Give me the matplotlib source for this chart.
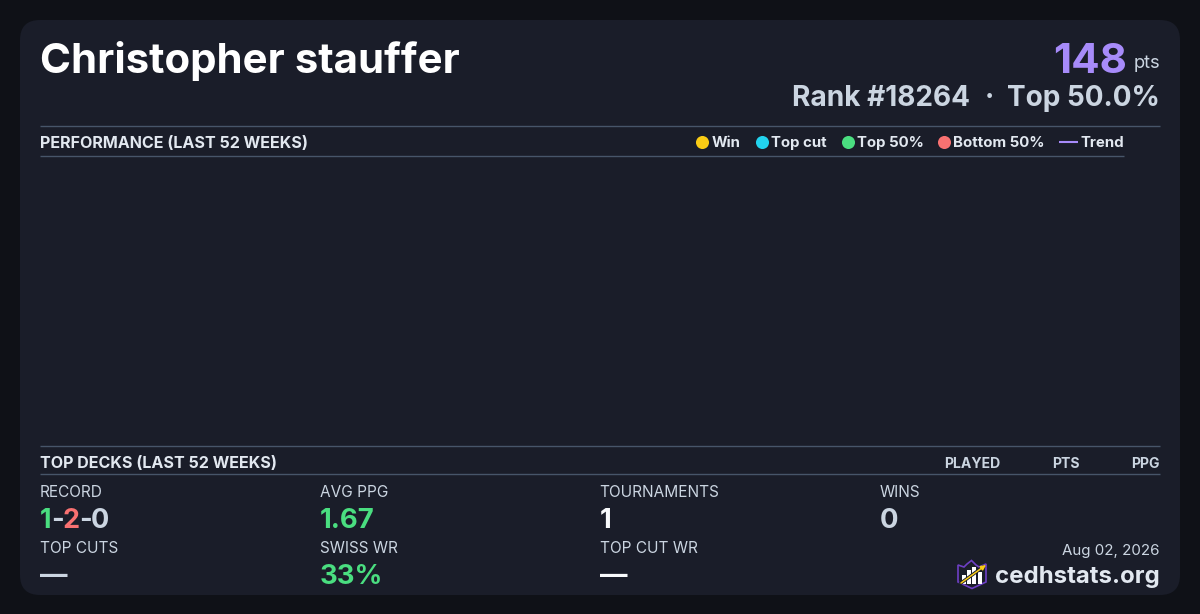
import matplotlib
matplotlib.use('Agg')
import matplotlib.pyplot as plt
from matplotlib.patches import FancyBboxPatch, Polygon, Rectangle

plt.rcParams['font.family'] = ['Inter', 'DejaVu Sans']

# Card content
player_name = 'Christopher stauffer'
points = '148'
rank_text = 'Rank #18264'
top_text = 'Top 50.0%'
legend_labels = ['Win', 'Top cut', 'Top 50%', 'Bottom 50%']
legend_colors = ['#facc15', '#22d3ee', '#4ade80', '#f87171']
legend_x = [702, 761.5, 847.5, 943.5]
deck_columns = ['PLAYED', 'PTS', 'PPG']
deck_column_right = [1000, 1080, 1160]

stat_labels = ['RECORD', 'AVG PPG', 'TOURNAMENTS', 'WINS', 'TOP CUTS', 'SWISS WR', 'TOP CUT WR']
stat_values = [None, '1.67', '1', '0', '—', '33%', '—']
stat_colors = [None, '#4ade80', '#f8fafc', '#cbd5e1', '#cbd5e1', '#4ade80', '#f8fafc']
stat_x = [40, 320, 599.5, 880, 40, 320, 599.5]
stat_label_y = [491, 491, 491, 491, 547, 547, 547]
stat_value_y = [518, 518, 518, 518, 574, 574, 574]

LINE = '#475569'
PURPLE = '#a78bfa'


def px(size):
    return size * 0.72


fig = plt.figure(figsize=(12, 6.14), dpi=100, facecolor='#0f1117')
ax = fig.add_axes([0, 0, 1, 1])
ax.set_xlim(0, 1200)
ax.set_ylim(614, 0)
ax.axis('off')

# Card
ax.add_patch(FancyBboxPatch((20, 20), 1160, 575, boxstyle='round,pad=0,rounding_size=20',
                            fc='#1a1d29', ec='none'))

# Header
ax.text(40, 57, player_name, color='#ffffff', fontsize=px(42), fontweight='bold', va='center_baseline')
ax.text(1160, 62, 'pts', color='#cbd5e1', fontsize=px(18.3), ha='right', va='center_baseline')
ax.text(1127, 58, points, color=PURPLE, fontsize=px(42), fontweight='bold', ha='right', va='center_baseline')
ax.text(1160, 96, top_text, color='#cbd5e1', fontsize=px(28), fontweight='bold', ha='right', va='center_baseline')
ax.text(989, 96, '·', color='#cbd5e1', fontsize=px(28), fontweight='bold', ha='center', va='center_baseline')
ax.text(970, 96, rank_text, color='#cbd5e1', fontsize=px(28), fontweight='bold', ha='right', va='center_baseline')

# Section rules
ax.plot([40, 1160], [125.5, 125.5], color=LINE, lw=1, snap=True, solid_capstyle='butt')
ax.plot([40, 1124], [155.5, 155.5], color=LINE, lw=1, snap=True, solid_capstyle='butt')
ax.plot([40, 1160], [445.5, 445.5], color=LINE, lw=1, snap=True, solid_capstyle='butt')
ax.plot([40, 1160], [473.5, 473.5], color=LINE, lw=1, snap=True, solid_capstyle='butt')

# Performance heading and legend
ax.text(40, 142, 'PERFORMANCE (LAST 52 WEEKS)', color='#e2e8f0', fontsize=px(16.1), fontweight='bold',
        va='center_baseline')
for label, color, x in zip(legend_labels, legend_colors, legend_x):
    ax.plot(x, 141.5, 'o', color=color, ms=9.4, mew=0)
    ax.text(x + 9.5, 141.5, label, color='#e2e8f0', fontsize=px(15), fontweight='bold', va='center_baseline')
ax.plot([1059, 1078], [141.5, 141.5], color=PURPLE, lw=1.5, solid_capstyle='butt')
ax.text(1080.5, 141.5, 'Trend', color='#e2e8f0', fontsize=px(15), fontweight='bold', va='center_baseline')

# Top decks heading
ax.text(40, 462, 'TOP DECKS (LAST 52 WEEKS)', color='#e2e8f0', fontsize=px(16.1), fontweight='bold',
        va='center_baseline')
for label, x in zip(deck_columns, deck_column_right):
    ax.text(x, 462, label, color='#cbd5e1', fontsize=px(14), fontweight='bold', ha='right', va='center_baseline')

# Stats grid
for label, value, color, x, ly, vy in zip(stat_labels, stat_values, stat_colors, stat_x, stat_label_y, stat_value_y):
    ax.text(x, ly, label, color='#cbd5e1', fontsize=px(15.4), va='center_baseline')
    if value is not None:
        ax.text(x, vy, value, color=color, fontsize=px(27.5), fontweight='bold', va='center_baseline')

# Record, one colour per part, each part starts where the last one ended
record_parts = ['1', '-', '2', '-', '0']
record_colors = ['#4ade80', '#cbd5e1', '#f87171', '#cbd5e1', '#cbd5e1']
renderer = fig.canvas.get_renderer()
x = 40
for part, color in zip(record_parts, record_colors):
    t = ax.text(x, 518, part, color=color, fontsize=px(27), fontweight='bold', va='center_baseline')
    x += t.get_window_extent(renderer).width - 0.8

# Footer
ax.text(1160, 550, 'Aug 02, 2026', color='#cbd5e1', fontsize=px(15.1), ha='right', va='center_baseline')
ax.text(1160, 574, 'cedhstats.org', color='#e2e8f0', fontsize=px(24), fontweight='bold', ha='right', va='center_baseline')

# Logo
ax.add_patch(Polygon([(958, 565), (964, 567), (967, 564), (971.5, 560.5), (976, 565), (979, 567), (986, 564),
                      (986, 582), (972, 588.5), (958, 582)],
                     closed=True, fc='#1a1d29', ec='#6d3fc4', lw=1.2))
for x, y, h in [(962, 575, 9), (967, 570, 14), (972, 567, 17), (978, 572, 12)]:
    ax.add_patch(Rectangle((x, y), 3.6, h, fc='#ffffff', ec='none'))
ax.plot([961, 983], [583, 567], color='#1a1d29', lw=2.4)
ax.annotate('', xy=(986, 565), xytext=(961, 583),
            arrowprops=dict(arrowstyle='-|>', color='#facc15', lw=1.1, mutation_scale=7, shrinkA=0, shrinkB=0))

fig.savefig('out.png', dpi=100, facecolor=fig.get_facecolor())
